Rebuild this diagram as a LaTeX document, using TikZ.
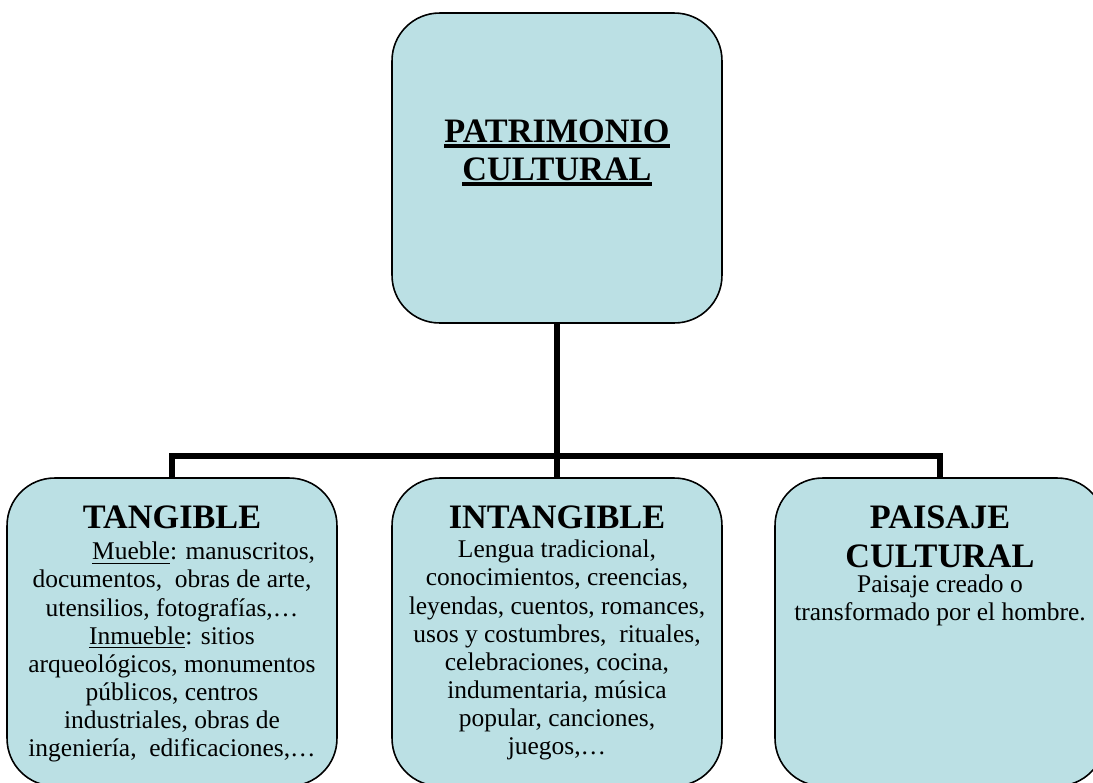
\documentclass[tikz,border=0pt]{standalone}
\usepackage{fontspec}
\setmainfont{Liberation Serif}
\usetikzlibrary{positioning}

\definecolor{boxfill}{RGB}{187,224,228}
\newsavebox{\ulbox}
\newcommand{\bodyfont}{\fontsize{14.5}{16}\selectfont}
\newcommand{\headfont}{\fontsize{19.5}{21.7}\selectfont\bfseries}
\newcommand{\headul}[1]{\leavevmode\sbox{\ulbox}{#1}\rlap{\rule[-3.6pt]{\wd\ulbox}{2.3pt}}\usebox{\ulbox}}
\newcommand{\bodyul}[1]{\leavevmode\sbox{\ulbox}{#1}\rlap{\rule[-2.4pt]{\wd\ulbox}{0.8pt}}\usebox{\ulbox}}

\tikzset{
  box/.style={draw,line width=0.9pt,fill=boxfill,rounded corners=0.95cm,minimum width=6.6cm,inner sep=0pt},
  conn/.style={line width=3pt},
}

\begin{document}
\begin{tikzpicture}[x=0.02cm,y=-0.02cm]
   \useasboundingbox (0,0) rectangle (1093,782);
   \clip (0,0) rectangle (1093,782);

   \node[box,minimum height=6.2cm] at (557,168) (patri) {};
   \node[box,minimum height=6.16cm] at (172,632) (tang) {};
   \node[box,minimum height=6.16cm] at (557,632) (inta) {};
   \node[box,minimum height=6.16cm] at (940,632) (pais) {};

   \coordinate (bar) at (557,456);
   \draw[conn] (patri.south) -- (inta.north);
   \draw[conn] (tang.north) |- (bar) -| (pais.north);

   \node[anchor=base] at (557,142) (patritxt) {\parbox[t]{6cm}{\centering\headfont \headul{PATRIMONIO}\\ \headul{CULTURAL}}};
   \node[anchor=base] at (172,528) (tangtxt) {\parbox[t]{6.4cm}{\centering\bodyfont {\headfont TANGIBLE}\\[2.1pt]
      \hspace*{36pt}\bodyul{Mueble}: manuscritos,\\ documentos,~ obras de arte,\\ utensilios, fotografías,…\\ \bodyul{Inmueble}: sitios\\ arqueológicos, monumentos\\ públicos, centros\\ industriales, obras de\\ ingeniería,~ edificaciones,…}};
   \node[anchor=base] at (557,528) (intatxt) {\parbox[t]{6.4cm}{\centering\bodyfont {\headfont INTANGIBLE}\\[1pt]
      Lengua tradicional,\\ conocimientos, creencias,\\ leyendas, cuentos, romances,\\ usos y costumbres,~ rituales,\\ celebraciones, cocina,\\ indumentaria, música\\ popular, canciones,\\ juegos,…}};
   \node[anchor=base] at (940,528) (paistxt) {\parbox[t]{6.4cm}{\centering\bodyfont {\headfont PAISAJE}\\[6.7pt] {\headfont CULTURAL}\\[-1.8pt]
      Paisaje creado o\\ transformado por el hombre.}};
\end{tikzpicture}
\end{document}
